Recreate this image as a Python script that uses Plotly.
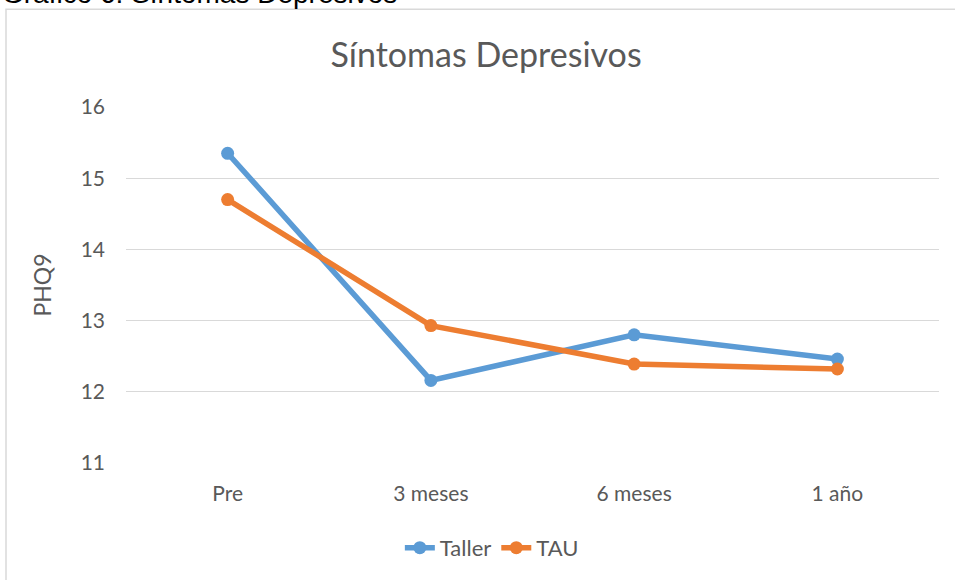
import plotly.graph_objects as go

# Datos
momentos = ["Pre", "3 meses", "6 meses", "1 año"]
taller = [15.35, 12.16, 12.80, 12.46]
tau = [14.70, 12.93, 12.39, 12.32]
y_ticks = [11, 12, 13, 14, 15, 16]

AZUL = "#5B9BD5"
NARANJA = "#ED7D31"
GRIS = "#595959"

fig = go.Figure()

fig.add_trace(go.Scatter(
    x=momentos, y=taller, mode="lines+markers", name="Taller",
    line=dict(color=AZUL, width=5.5),
    marker=dict(color=AZUL, size=13)
))
fig.add_trace(go.Scatter(
    x=momentos, y=tau, mode="lines+markers", name="TAU",
    line=dict(color=NARANJA, width=5.5),
    marker=dict(color=NARANJA, size=13)
))

# marco del gráfico y leyenda del documento
fig.add_shape(type="rect", xref="paper", yref="paper",
              x0=-0.1476, x1=1.1, y0=-0.5, y1=1.2745,
              line=dict(color="#D9D9D9", width=1.5), layer="below")
fig.add_annotation(text="Gráfico 6: Síntomas Depresivos", xref="paper", yref="paper",
                   x=-0.155, y=1.318, xanchor="left", yanchor="middle", showarrow=False,
                   font=dict(family="Liberation Sans", size=28, color="black"))

fig.update_layout(
    width=955, height=580,
    margin=dict(l=126, r=16, t=107, b=116),
    paper_bgcolor="white", plot_bgcolor="white",
    font=dict(family="Lato", color=GRIS, size=21),
    title=dict(text="Síntomas Depresivos", x=0.509, xanchor="center",
               y=0.905, yanchor="middle",
               font=dict(size=34, color=GRIS)),
    xaxis=dict(showgrid=False, showline=False, ticks="", range=[-0.5, 3.5],
               automargin=False, ticklabelstandoff=16,
               tickfont=dict(size=21, color=GRIS)),
    yaxis=dict(range=[11, 16], tickvals=y_ticks, showgrid=True,
               gridcolor="#D9D9D9", gridwidth=1.3, zeroline=False,
               showline=False, ticks="", ticklabelstandoff=20, automargin=False,
               title=dict(text="PHQ9", font=dict(size=23, color=GRIS), standoff=22),
               tickfont=dict(size=21, color=GRIS)),
    legend=dict(orientation="h", x=0.45, xanchor="center", y=-0.235, yanchor="middle",
                font=dict(size=22, color=GRIS)),
    showlegend=True,
)

fig.write_html("out.html", config={"displayModeBar": False},
               post_script="document.body.style.margin='0';")
